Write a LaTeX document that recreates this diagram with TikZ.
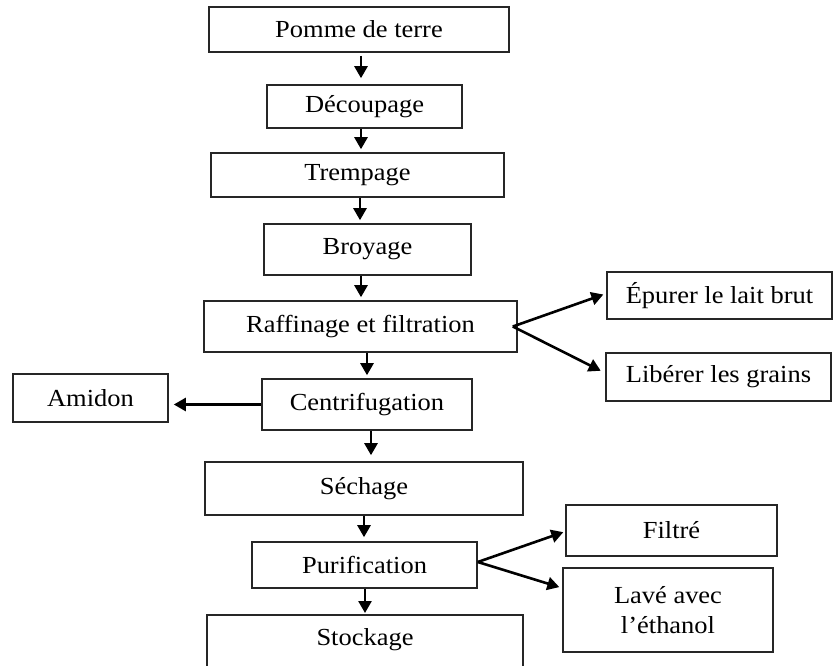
\documentclass[tikz,border=0pt]{standalone}
\usepackage{fontspec}
\setmainfont[FakeStretch=1.08]{Liberation Serif}
\usetikzlibrary{arrows.meta}
\begin{document}
\begin{tikzpicture}[x=1pt,y=-1pt,
  box/.style={draw=black!85,line width=1.6pt,rectangle,inner sep=0pt,align=center,
    font=\fontsize{24.5}{30}\selectfont},
  arr/.style={line width=2.6pt,-{Triangle[length=12pt,width=13pt]},shorten >=3pt}]
\useasboundingbox (0,0) rectangle (833,665);
\begin{scope}
\clip (0,0) rectangle (833,665);
\node[box,minimum width=300,minimum height=45] (pomme) at (359,29.5) {Pomme de terre};
\node[box,minimum width=195,minimum height=43] (decoup) at (364.5,106.5) {Découpage};
\node[box,minimum width=293,minimum height=44] (tremp) at (357.5,175) {Trempage};
\node[box,minimum width=207,minimum height=51] (broy) at (367.5,249.5) {Broyage};
\node[box,minimum width=313,minimum height=51] (raff) at (360.5,326.5) {Raffinage et filtration};
\node[box,minimum width=210,minimum height=51] (centr) at (367,404.5) {Centrifugation};
\node[box,minimum width=155,minimum height=48] (amidon) at (90.5,398) {Amidon};
\node[box,minimum width=225,minimum height=47] (epur) at (719.5,295.5) {Épurer le lait brut};
\node[box,minimum width=225,minimum height=48] (liber) at (718.5,377) {Libérer les grains};
\node[box,minimum width=318,minimum height=53] (sech) at (364,488.5) {Séchage};
\node[box,minimum width=225,minimum height=46] (purif) at (364.5,565) {Purification};
\node[box,minimum width=211,minimum height=51] (filtre) at (671.5,530.5) {Filtré};
\node[box,minimum width=210,minimum height=84] (lave) at (668,610) {Lavé avec\\l’éthanol};
\node[box,minimum width=316,text height=31pt,text depth=30pt,anchor=north] (stock) at (365,614) {Stockage};

\coordinate (x1) at (361,0);
\coordinate (x2) at (361,0);
\coordinate (x3) at (360,0);
\coordinate (x4) at (361,0);
\coordinate (x5) at (367,0);
\coordinate (x6) at (371,0);
\coordinate (x7) at (364,0);
\coordinate (x8) at (365,0);

\draw[arr,shorten <=3pt,shorten >=6pt] (pomme.south -| x1) -- (decoup.north -| x1);
\draw[arr] (decoup.south -| x2) -- (tremp.north -| x2);
\draw[arr] (tremp.south -| x3) -- (broy.north -| x3);
\draw[arr] (broy.south -| x4) -- (raff.north -| x4);
\draw[arr] (raff.south -| x5) -- (centr.north -| x5);
\draw[arr,shorten >=6pt] (centr.south -| x6) -- (sech.north -| x6);
\draw[arr,shorten >=4pt] (sech.south -| x7) -- (purif.north -| x7);
\draw[arr,shorten >=1pt] (purif.south -| x8) -- (stock.north -| x8);

\draw[arr,shorten >=5pt] (centr.west) -- (centr.west -| amidon.east);

\coordinate (v1) at ([xshift=-5pt]raff.east);
\draw[arr] (v1) -- ([yshift=2pt]epur.west);
\draw[arr,shorten >=5pt] (v1) -- ([yshift=4pt]liber.west);

\coordinate (v2) at ([yshift=3pt]purif.east);
\draw[arr,shorten >=2pt] (v2) -- ([yshift=-1pt]filtre.west);
\draw[arr] (v2) -- ([yshift=22pt]lave.west);
\end{scope}
\end{tikzpicture}
\end{document}
